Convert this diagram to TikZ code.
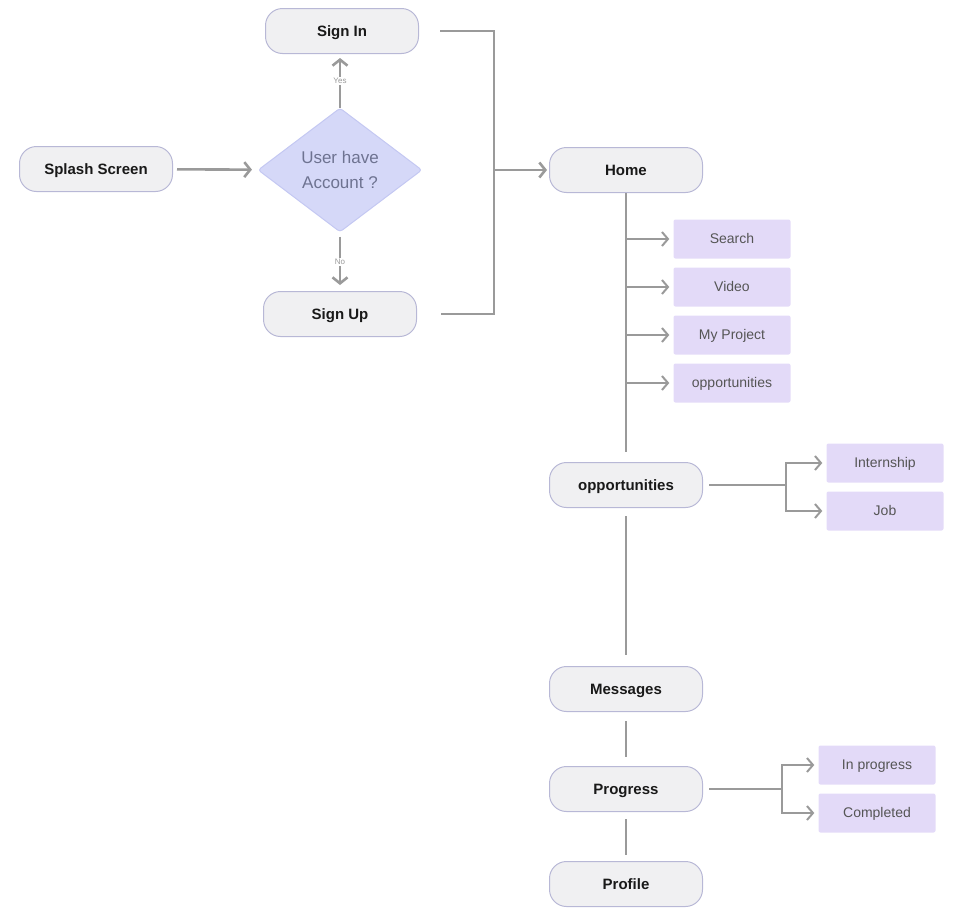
\documentclass[tikz,border=0pt]{standalone}
\usepackage{fontspec}
\setmainfont{Liberation Sans}
\usetikzlibrary{arrows.meta,shapes.geometric}
\definecolor{linegray}{HTML}{9A9A9A}
\definecolor{boxfill}{HTML}{F0F0F2}
\definecolor{boxline}{HTML}{B8B8D6}
\definecolor{decfill}{HTML}{D5D8F8}
\definecolor{decline}{HTML}{C4C8F2}
\definecolor{dectext}{HTML}{6E7391}
\definecolor{subfill}{HTML}{E3DAF8}
\definecolor{subtext}{HTML}{555555}
\tikzset{
    screen/.style={draw=boxline, fill=boxfill, line width=1pt, rounded corners=17pt,
        minimum width=153pt, minimum height=45pt, text=black!90,
        text height=10.8pt, text depth=0.4pt,
        font=\fontsize{15}{18}\selectfont\bfseries},
    decision/.style={diamond, draw=decline, fill=decfill, line width=1pt, rounded corners=3pt,
        inner sep=0pt, aspect=1.3, minimum width=164pt, minimum height=124pt,
        align=center, text=dectext, font=\fontsize{17}{25}\selectfont},
    subscreen/.style={fill=subfill, rounded corners=2pt, minimum width=117pt,
        minimum height=39pt, text=subtext, text height=10pt, text depth=0.3pt,
        font=\fontsize{14}{16}\selectfont},
    link/.style={draw=linegray, line width=2.6pt},
    twig/.style={draw=linegray, line width=2pt},
    flow/.style={link, -{Straight Barb[length=6pt,width=15pt]}},
    tag/.style={fill=white, inner sep=1pt, text=linegray, font=\fontsize{8}{9}\selectfont}
}
\begin{document}
\begin{tikzpicture}[x=1pt,y=-1pt]
    \useasboundingbox (0,0) rectangle (967,921);
    % main screens
    \node[screen] (splash) at (96,169) {Splash Screen};
    \node[decision] (dec) at (340,170) {User have\\Account ?};
    \node[screen] (signin) at (342,31) {Sign In};
    \node[screen] (signup) at (340,314) {Sign Up};
    \node[screen] (home) at (626,170) {Home};
    \node[screen] (opport) at (626,485) {opportunities};
    \node[screen] (messages) at (626,689) {Messages};
    \node[screen] (progress) at (626,789) {Progress};
    \node[screen] (profile) at (626,884) {Profile};
    \path (494,170) coordinate (join)
        (786,485) coordinate (forkA)
        (782,789) coordinate (forkB);
    % sub screens
    \foreach \n/\t/\y in {search/Search/239, video/Video/287, project/My Project/335, opps/opportunities/383}{
        \node[subscreen] (\n) at (732,\y) {\t};
        \draw[twig, -{Straight Barb[length=6pt,width=14pt]}, shorten >=4pt] (home.south |- \n) -- (\n.west);
    }
    \foreach \n/\t/\y in {intern/Internship/463, job/Job/511}{
        \node[subscreen] (\n) at (885,\y) {\t};
        \draw[twig, -{Straight Barb[length=6pt,width=14pt]}, shorten >=4pt] (forkA) |- (\n.west);
    }
    \foreach \n/\t/\y in {inprog/In progress/765, done/Completed/813}{
        \node[subscreen] (\n) at (877,\y) {\t};
        \draw[twig, -{Straight Barb[length=6pt,width=14pt]}, shorten >=4pt] (forkB) |- (\n.west);
    }
    % connectors
    \draw[flow, shorten <=4pt, shorten >=6pt] (splash) -- (dec);
    \draw[flow, shorten >=4pt] (dec.north) -- node[tag]{Yes} (dec.north |- signin.south);
    \draw[flow, shorten <=4pt, shorten >=6pt] (dec.south) -- node[tag]{No} (signup.north);
    \draw[link] ([xshift=21pt]signin.east) -| (join) |- ([xshift=24pt]signup.east);
    \draw[flow, shorten >=2pt] (join) -- (home);
    \draw[link, shorten >=10pt] (home) -- (opport);
    \draw[link, shorten <=8pt, shorten >=11pt] (opport) -- (messages);
    \draw[link, shorten <=9pt, shorten >=9pt] (messages) -- (progress);
    \draw[link, shorten <=7pt, shorten >=6pt] (progress) -- (profile);
    \draw[twig] ([xshift=6pt]opport.east) -- (forkA);
    \draw[twig] ([xshift=6pt]progress.east) -- (forkB);
\end{tikzpicture}
\end{document}
